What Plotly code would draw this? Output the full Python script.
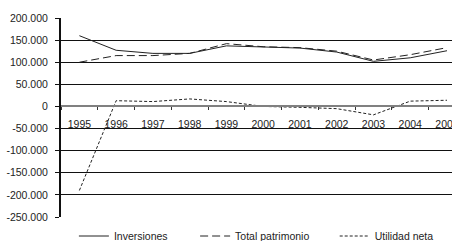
import plotly.graph_objects as go

years = ["1995", "1996", "1997", "1998", "1999", "2000", "2001", "2002", "2003", "2004", "2005"]
inversiones = [160000, 127000, 120000, 120000, 137000, 135000, 132000, 123000, 102000, 110000, 126000]
total_patrimonio = [100000, 115000, 115000, 120000, 142000, 135000, 133000, 125000, 105000, 117000, 133000]
utilidad_neta = [-190000, 13000, 11000, 17000, 11000, 0, -2000, -5000, -19000, 12000, 14000]

y_tickvals = [200000, 150000, 100000, 50000, 0, -50000, -100000, -150000, -200000, -250000]
y_ticktext = ["200.000", "150.000", "100.000", "50.000", "0", "-50.000", "-100.000", "-150.000", "-200.000", "-250.000"]

fig = go.Figure()
fig.add_trace(go.Scatter(x=years, y=inversiones, mode="lines", name="Inversiones",
                         line=dict(color="#222222", width=1, dash="solid"), legend="legend"))
fig.add_trace(go.Scatter(x=years, y=total_patrimonio, mode="lines", name="Total patrimonio",
                         line=dict(color="#222222", width=1, dash="8px,4px"), legend="legend2"))
fig.add_trace(go.Scatter(x=years, y=utilidad_neta, mode="lines", name="Utilidad neta",
                         line=dict(color="#222222", width=1, dash="3px,2px"), legend="legend3"))

# figure is a bit taller than the 241px window so the legends never push the margins
H = 252
PLOT_BOTTOM = 217
leg_y = -(236 - PLOT_BOTTOM) / (PLOT_BOTTOM - 18)
leg_common = dict(orientation="h", xanchor="left", y=leg_y, yanchor="middle",
                  font=dict(size=10.5), bgcolor="rgba(0,0,0,0)")
fig.update_layout(
    width=452, height=H,
    margin=dict(l=61, r=0, t=18, b=H - PLOT_BOTTOM),
    paper_bgcolor="white", plot_bgcolor="white",
    font=dict(family="Liberation Sans, Arial", size=10.5, color="#222222"),
    showlegend=True,
    legend=dict(x=0.033, **leg_common),
    legend2=dict(x=0.343, **leg_common),
    legend3=dict(x=0.700, **leg_common),
)
fig.update_xaxes(
    type="category", range=[-0.5, 10.136],
    anchor="free", position=250/450, automargin=False,
    showline=True, linecolor="#808080", linewidth=1.5,
    ticks="outside", ticklen=3, tickcolor="#333333", tickson="boundaries",
    ticklabelstandoff=8,
    showgrid=False, fixedrange=True,
)
fig.update_yaxes(
    range=[-250000, 200000], automargin=False,
    tickmode="array", tickvals=y_tickvals, ticktext=y_ticktext,
    showgrid=True, gridcolor="#111111", gridwidth=1,
    zeroline=True, zerolinecolor="#808080", zerolinewidth=1.5,
    showline=True, linecolor="#111111", linewidth=2,
    ticks="outside", ticklen=4, tickcolor="#111111",
    ticklabelstandoff=5,
    fixedrange=True,
)

fig.write_html("out.html", config={"displayModeBar": False},
               post_script="document.body.style.margin='0';document.body.style.overflow='hidden';")
